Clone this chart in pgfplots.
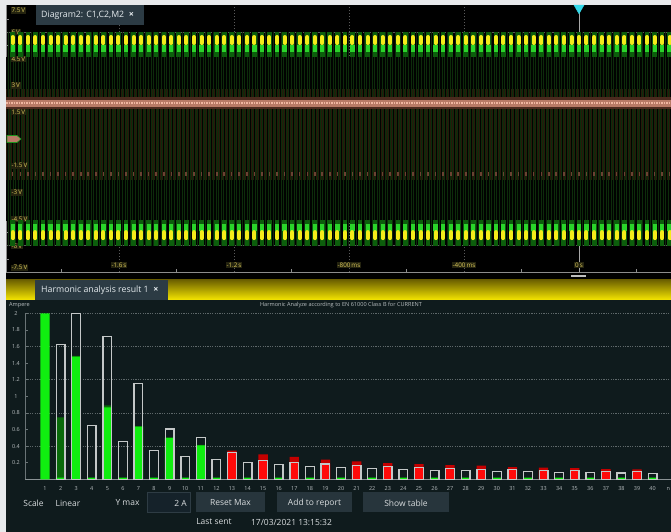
\documentclass[border=0pt]{standalone}
\usepackage{pgfplots}
\pgfplotsset{compat=1.18}
\usepackage{pgfplotstable}
\usepackage{fontspec}
\setmainfont{Open Sans}
\usetikzlibrary{patterns,patterns.meta}

\definecolor{frame}{HTML}{E8EAEC}
\definecolor{tabbg}{HTML}{2C3B44}
\definecolor{tabtext}{HTML}{E4EAED}
\definecolor{gridc}{HTML}{5A5A5A}
\definecolor{axc}{HTML}{8C8C8C}
\definecolor{zeroc}{HTML}{A8A8A8}
\definecolor{lblc}{HTML}{D8C55A}
\definecolor{lblbg}{HTML}{24230F}
\definecolor{stripeg}{HTML}{0D2C0B}
\definecolor{stripeb}{HTML}{271A0A}
\definecolor{wdgrn}{HTML}{0C5E0C}
\definecolor{wgrn}{HTML}{2AD42A}
\definecolor{wyel}{HTML}{F4EC1A}
\definecolor{sa}{HTML}{4A2A1E}
\definecolor{sb}{HTML}{B87A66}
\definecolor{sc}{HTML}{F0B6A0}
\definecolor{sd}{HTML}{6A4232}
\definecolor{trig}{HTML}{35D8E8}
\definecolor{yelltop}{HTML}{6E6200}
\definecolor{yellbot}{HTML}{F6E600}
\definecolor{panelbg}{HTML}{0F1B1D}
\definecolor{hxline}{HTML}{8A9294}
\definecolor{hyline}{HTML}{6A7476}
\definecolor{gridh}{HTML}{5E686A}
\definecolor{ticktext}{HTML}{B8BEC0}
\definecolor{bgreen}{HTML}{10EE10}
\definecolor{dgreen}{HTML}{0A6A0A}
\definecolor{bred}{HTML}{FF0A0A}
\definecolor{dred}{HTML}{C40000}
\definecolor{outl}{HTML}{C4C8C8}
\definecolor{uitext}{HTML}{D8DCDE}
\definecolor{btnbg}{HTML}{27353C}
\definecolor{boxbg}{HTML}{15222A}
\definecolor{boxline}{HTML}{2E3C44}

\pgfplotstableread{
x ty by
-1.970 5.56 -5.40
-1.943 5.56 -5.40
-1.917 5.56 -5.40
-1.891 5.56 -5.40
-1.864 5.56 -5.40
-1.838 5.56 -5.40
-1.812 5.56 -5.40
-1.786 5.56 -5.40
-1.759 5.56 -5.40
-1.733 5.56 -5.40
-1.707 5.56 -5.40
-1.681 5.56 -5.40
-1.654 5.56 -5.40
-1.628 5.56 -5.40
-1.602 5.56 -5.40
-1.576 5.56 -5.40
-1.549 5.56 -5.40
-1.523 5.56 -5.40
-1.497 5.56 -5.40
-1.471 5.56 -5.40
-1.444 5.56 -5.40
-1.418 5.56 -5.40
-1.392 5.56 -5.40
-1.366 5.56 -5.40
-1.339 5.56 -5.40
-1.313 5.56 -5.40
-1.287 5.56 -5.40
-1.260 5.56 -5.40
-1.234 5.56 -5.40
-1.208 5.56 -5.40
-1.182 5.56 -5.40
-1.155 5.56 -5.40
-1.129 5.56 -5.40
-1.103 5.56 -5.40
-1.077 5.56 -5.40
-1.050 5.56 -5.40
-1.024 5.56 -5.40
-0.998 5.56 -5.40
-0.972 5.56 -5.40
-0.945 5.56 -5.40
-0.919 5.56 -5.40
-0.893 5.56 -5.40
-0.867 5.56 -5.40
-0.840 5.56 -5.40
-0.814 5.56 -5.40
-0.788 5.56 -5.40
-0.762 5.56 -5.40
-0.735 5.56 -5.40
-0.709 5.56 -5.40
-0.683 5.56 -5.40
-0.657 5.56 -5.40
-0.630 5.56 -5.40
-0.604 5.56 -5.40
-0.578 5.56 -5.40
-0.551 5.56 -5.40
-0.525 5.56 -5.40
-0.499 5.56 -5.40
-0.473 5.56 -5.40
-0.446 5.56 -5.40
-0.420 5.56 -5.40
-0.394 5.56 -5.40
-0.368 5.56 -5.40
-0.341 5.56 -5.40
-0.315 5.56 -5.40
-0.289 5.56 -5.40
-0.263 5.56 -5.40
-0.236 5.56 -5.40
-0.210 5.56 -5.40
-0.184 5.56 -5.40
-0.158 5.56 -5.40
-0.131 5.56 -5.40
-0.105 5.56 -5.40
-0.079 5.56 -5.40
-0.053 5.56 -5.40
-0.026 5.56 -5.40
0.000 5.56 -5.40
0.026 5.56 -5.40
0.053 5.56 -5.40
0.079 5.56 -5.40
0.105 5.56 -5.40
0.131 5.56 -5.40
0.158 5.56 -5.40
0.184 5.56 -5.40
0.210 5.56 -5.40
0.236 5.56 -5.40
0.263 5.56 -5.40
0.289 5.56 -5.40
0.315 5.56 -5.40
}\blobs

\tikzset{
  vlab/.style={font=\fontsize{6.3}{7}\selectfont, text=lblc, fill=lblbg, inner sep=0.9bp},
  ui/.style={font=\fontsize{8.5}{10}\selectfont, text=uitext, inner sep=0pt},
}

\begin{document}
\begin{tikzpicture}
\path[use as bounding box] (0bp,0bp) rectangle (671bp,532bp);
\begin{scope}[x=1bp,y=1bp]
\fill[frame] (0,0) rectangle (671,532);
\fill[black] (6,252) rectangle (671,527);
\end{scope}

% ---------------- oscilloscope waveform panel ----------------
\begin{axis}[
  at={(6bp,259.5bp)}, anchor=south west, scale only axis,
  width=665bp, height=267bp,
  xmin=-1.993, xmax=0.32, ymin=-7.5, ymax=7.5,
  axis x line*=bottom, axis y line*=left,
  axis line style={draw=axc, line width=0.8bp},
  xtick={-1.6,-1.2,-0.8,-0.4}, ytick={-6,-4.5,-3,-1.5,1.5,3,4.5,6},
  xticklabels={}, yticklabels={},
  minor xtick={-1.8,-1.4,-1.0,-0.6,-0.2,0.2},
  minor ytick={-6.75,-5.25,-3.75,-2.25,-0.75,0.75,2.25,3.75,5.25,6.75},
  tick align=inside, major tick length=0pt, minor tick length=3bp,
  tick style={draw=axc, line width=0.6bp},
  grid=major, major grid style={gridc, dash pattern=on 1.5bp off 1.5bp, line width=0.6bp},
  extra x ticks={0}, extra y ticks={0}, extra x tick labels={}, extra y tick labels={},
  extra tick style={grid=major, major grid style={solid, zeroc, line width=0.8bp}},
  clip=false,
]
% dense aliased columns of the signals
\addplot[draw=none, fill=black!94!stripeg] coordinates {(-1.993,-4.6) (0.32,-4.6) (0.32,4.6) (-1.993,4.6)} -- cycle;
\addplot[draw=none, pattern={Lines[angle=90,distance=2.6bp,line width=0.5bp]}, pattern color=stripeg] coordinates {(-1.993,-6) (0.32,-6) (0.32,6) (-1.993,6)} -- cycle;
\addplot[draw=none, pattern={Lines[angle=90,distance=2.6bp,line width=0.45bp,xshift=1.3bp]}, pattern color=stripeb] coordinates {(-1.993,-2.3) (0.32,-2.3) (0.32,2.8) (-1.993,2.8)} -- cycle;
% M2 trace
\addplot[sa, line width=12bp] coordinates {(-1.993,2.02) (0.32,2.02)};
\addplot[sb, line width=7bp] coordinates {(-1.993,2.02) (0.32,2.02)};
\addplot[sc, line width=2.5bp, dash pattern=on 1.5bp off 1bp] coordinates {(-1.993,2.02) (0.32,2.02)};
\addplot[only marks, mark=|, mark size=2bp, mark options={line width=1.6bp, draw=sd, yshift=61.3bp}] table[x=x,y=by]{\blobs};
% top band (C1/C2 peaks)
\addplot[only marks, mark=|, mark size=12.5bp, mark options={line width=4.6bp, draw=wdgrn, yshift=-4.5bp}] table[x=x,y=ty]{\blobs};
\addplot[only marks, mark=|, mark size=3.5bp, mark options={line width=4.2bp, draw=wgrn, yshift=-8.5bp}] table[x=x,y=ty]{\blobs};
\addplot[only marks, mark=|, mark size=3bp, mark options={line width=4bp, draw=wyel, line cap=round}] table[x=x,y=ty]{\blobs};
% bottom band
\addplot[only marks, mark=|, mark size=13bp, mark options={line width=4.6bp, draw=wdgrn, yshift=2bp}] table[x=x,y=by]{\blobs};
\addplot[only marks, mark=|, mark size=3.5bp, mark options={line width=4.2bp, draw=wgrn, yshift=7.5bp}] table[x=x,y=by]{\blobs};
\addplot[only marks, mark=|, mark size=3bp, mark options={line width=4bp, draw=wyel, line cap=round}] table[x=x,y=by]{\blobs};
% trigger marker
\addplot[only marks, mark=triangle*, mark size=5.8bp, mark options={rotate=180, fill=trig, draw=trig}] coordinates {(0,7.36)};
% voltage labels
\node[vlab, anchor=west, xshift=4.5bp] at (axis cs:-1.993,7.21) {7.5\,V};
\node[vlab, anchor=west, xshift=4.5bp] at (axis cs:-1.993,6) {6\,V};
\node[vlab, anchor=west, xshift=4.5bp] at (axis cs:-1.993,4.5) {4.5\,V};
\node[vlab, anchor=west, xshift=4.5bp] at (axis cs:-1.993,3) {3\,V};
\node[vlab, anchor=west, xshift=4.5bp] at (axis cs:-1.993,1.5) {1.5\,V};
\node[vlab, anchor=west, xshift=4.5bp] at (axis cs:-1.993,-1.5) {-1.5\,V};
\node[vlab, anchor=west, xshift=4.5bp] at (axis cs:-1.993,-3) {-3\,V};
\node[vlab, anchor=west, xshift=4.5bp] at (axis cs:-1.993,-4.5) {-4.5\,V};
\node[vlab, anchor=west, xshift=4.5bp] at (axis cs:-1.993,-6) {-6\,V};
\node[vlab, anchor=west, xshift=4.5bp] at (axis cs:-1.993,-7.23) {-7.5\,V};
% time labels
\node[vlab] at (axis cs:-1.6,-7.08) {-1.6\,s};
\node[vlab] at (axis cs:-1.2,-7.08) {-1.2\,s};
\node[vlab] at (axis cs:-0.8,-7.08) {-800\,ms};
\node[vlab] at (axis cs:-0.4,-7.08) {-400\,ms};
\node[vlab] at (axis cs:0,-7.08) {0\,s};
\end{axis}

\begin{scope}[x=1bp,y=1bp]
% channel marker, scroll handle, tab
\filldraw[fill=sb, draw=wgrn!70!black, line width=0.6bp] (7,389.5) -- (17,389.5) -- (21,393) -- (17,396.5) -- (7,396.5) -- cycle;
\fill[black!25] (571,255) rectangle (586,257);
\fill[tabbg] (36,507) rectangle (144,527);
\node[font=\fontsize{8.8}{10}\selectfont, text=tabtext, anchor=west, inner sep=0pt] at (41,516.5) {Diagram2: C1,C2,M2};
\node[font=\bfseries\fontsize{9}{10}\selectfont, text=tabtext, inner sep=0pt] at (131.5,517.5) {×};

% ---------------- harmonic analysis panel ----------------
\shade[top color=yelltop, bottom color=yellbot] (6,232) rectangle (671,252);
\fill[tabbg] (35,232) rectangle (168,252);
\node[font=\fontsize{8.8}{10}\selectfont, text=tabtext, anchor=west, inner sep=0pt] at (41,241.5) {Harmonic analysis result 1};
\node[font=\bfseries\fontsize{9}{10}\selectfont, text=tabtext, inner sep=0pt] at (156,242.5) {×};
\fill[panelbg] (6,0) rectangle (671,232);
\node[font=\fontsize{5.6}{6}\selectfont, text=ticktext, inner sep=0pt] at (19.5,226.5) {Ampere};
\node[font=\fontsize{5.6}{6}\selectfont, text=ticktext, inner sep=0pt] at (341,227) {Harmonic Analyze according to EN 61000 Class B for CURRENT};
\end{scope}

\begin{axis}[
  at={(25bp,52.7bp)}, anchor=south west, scale only axis,
  width=646bp, height=166bp,
  xmin=-0.284, xmax=41.18, ymin=0, ymax=2, clip=false,
  axis x line*=bottom, axis y line*=left,
  x axis line style={draw=hxline, line width=1.2bp},
  y axis line style={draw=hyline, line width=1bp},
  xtick={1,2,...,40}, extra x ticks={41}, extra x tick labels={n},
  ytick={0.2,0.4,0.6,0.8,1,1.2,1.4,1.6,1.8,2},
  yticklabels={0.2,0.4,0.6,0.8,1,1.2,1.4,1.6,1.8,2},
  /pgf/number format/assume math mode=true,
  xtick style={draw=none}, ytick style={draw=hyline, line width=0.6bp},
  tick align=inside, major tick length=2.5bp,
  ticklabel style={font=\fontsize{5.5}{6}\selectfont, text=ticktext},
  xticklabel style={anchor=center, yshift=-9.7bp},
  yticklabel style={anchor=center, xshift=-9bp},
  extra y ticks={0.4,0.8,1.2,1.6,2}, extra y tick labels={},
  extra y tick style={grid=major, major grid style={gridh, dash pattern=on 1.2bp off 1.2bp, line width=0.7bp}, tick style={draw=none}},
  extra x tick style={tick style={draw=none}},
]
% max-hold values (dark)
\addplot[ybar, bar width=9.3bp, bar shift=0pt, fill=dgreen, draw=none] coordinates {
(2,0.747) (3,1.487) (5,0.89) (7,0.642) (9,0.505) (11,0.415)};
\addplot[ybar, bar width=9.3bp, bar shift=0pt, fill=dred, draw=none] coordinates {
(13,0.345) (15,0.30) (17,0.269) (19,0.236) (21,0.217) (23,0.196) (25,0.184) (27,0.172)
(29,0.164) (31,0.148) (33,0.14) (35,0.136) (37,0.124) (39,0.12)};
% current values
\addplot[ybar, bar width=9.3bp, bar shift=0pt, fill=bgreen, draw=none] coordinates {
(1,2) (2,0.02) (3,1.477) (4,0.02) (5,0.867) (6,0.02) (7,0.634) (8,0.02) (9,0.50) (10,0.02)
(11,0.41) (12,0.02) (14,0.02) (16,0.02) (18,0.02) (20,0.02) (22,0.02) (24,0.02) (26,0.02)
(28,0.02) (30,0.02) (32,0.02) (34,0.02) (36,0.02) (38,0.02) (40,0.02)};
\addplot[ybar, bar width=9.3bp, bar shift=0pt, fill=bred, draw=none] coordinates {
(13,0.32) (15,0.228) (17,0.205) (19,0.185) (21,0.17) (23,0.152) (25,0.142) (27,0.132)
(29,0.122) (31,0.116) (33,0.108) (35,0.102) (37,0.096) (39,0.094)};
% limit outlines
\addplot[ybar, bar width=8.7bp, bar shift=0pt, fill=none, draw=outl, line width=1.3bp] coordinates {
(2,1.627) (3,2.0) (4,0.65) (5,1.718) (6,0.458) (7,1.152) (8,0.349) (9,0.606) (10,0.277)
(11,0.50) (12,0.236) (13,0.32) (14,0.205) (15,0.228) (16,0.18) (17,0.205) (18,0.157)
(19,0.185) (20,0.145) (21,0.17) (22,0.133) (23,0.152) (24,0.122) (25,0.142) (26,0.108)
(27,0.132) (28,0.102) (29,0.122) (30,0.092) (31,0.116) (32,0.09) (33,0.108) (34,0.084)
(35,0.102) (36,0.08) (37,0.096) (38,0.077) (39,0.094) (40,0.07)};
\end{axis}

\begin{scope}[x=1bp,y=1bp]
% controls
\node[ui] at (33.5,29) {Scale};
\node[ui] at (68,29) {Linear};
\node[ui] at (127.5,29) {Y max};
\filldraw[fill=boxbg, draw=boxline, line width=0.8bp] (147,19.5) rectangle (190,39.5);
\node[ui, anchor=east] at (187,29) {2 A};
\fill[btnbg] (196,19.5) rectangle (265,39.5);
\node[ui] at (230.5,29) {Reset Max};
\fill[btnbg] (277,19.5) rectangle (352,39.5);
\node[ui] at (314.5,29) {Add to report};
\fill[btnbg] (363,19.5) rectangle (449,39.5);
\node[ui] at (406,29) {Show table};
\node[ui] at (214,10) {Last sent};
\node[ui] at (291.5,10) {17/03/2021 13:15:32};
\end{scope}
\end{tikzpicture}
\end{document}
